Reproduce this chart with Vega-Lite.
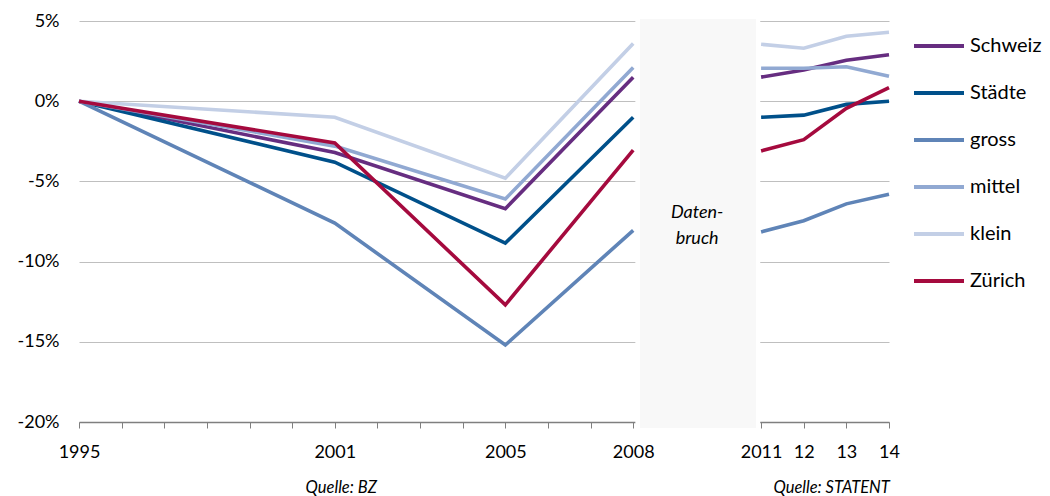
{
  "$schema": "https://vega.github.io/schema/vega-lite/v6.json",
  "width": 810,
  "height": 401,
  "autosize": {"type": "none"},
  "padding": {"left": 79, "top": 21, "right": 161, "bottom": 74},
  "background": "white",
  "config": {"view": {"stroke": null}, "font": "Lato"},
  "datasets": {
    "lines": [
      {"year": 1995, "series": "Schweiz", "seg": "a", "value": 0},
      {"year": 2001, "series": "Schweiz", "seg": "a", "value": -3.2},
      {"year": 2005, "series": "Schweiz", "seg": "a", "value": -6.7},
      {"year": 2008, "series": "Schweiz", "seg": "a", "value": 1.5},
      {"year": 2011, "series": "Schweiz", "seg": "b", "value": 1.5},
      {"year": 2012, "series": "Schweiz", "seg": "b", "value": 1.95},
      {"year": 2013, "series": "Schweiz", "seg": "b", "value": 2.55},
      {"year": 2014, "series": "Schweiz", "seg": "b", "value": 2.9},
      {"year": 1995, "series": "Städte", "seg": "a", "value": 0},
      {"year": 2001, "series": "Städte", "seg": "a", "value": -3.8},
      {"year": 2005, "series": "Städte", "seg": "a", "value": -8.85},
      {"year": 2008, "series": "Städte", "seg": "a", "value": -1.0},
      {"year": 2011, "series": "Städte", "seg": "b", "value": -1.0},
      {"year": 2012, "series": "Städte", "seg": "b", "value": -0.87},
      {"year": 2013, "series": "Städte", "seg": "b", "value": -0.2},
      {"year": 2014, "series": "Städte", "seg": "b", "value": 0.0},
      {"year": 1995, "series": "gross", "seg": "a", "value": 0},
      {"year": 2001, "series": "gross", "seg": "a", "value": -7.6},
      {"year": 2005, "series": "gross", "seg": "a", "value": -15.2},
      {"year": 2008, "series": "gross", "seg": "a", "value": -8.05},
      {"year": 2011, "series": "gross", "seg": "b", "value": -8.15},
      {"year": 2012, "series": "gross", "seg": "b", "value": -7.45},
      {"year": 2013, "series": "gross", "seg": "b", "value": -6.4},
      {"year": 2014, "series": "gross", "seg": "b", "value": -5.8},
      {"year": 1995, "series": "mittel", "seg": "a", "value": 0},
      {"year": 2001, "series": "mittel", "seg": "a", "value": -2.8},
      {"year": 2005, "series": "mittel", "seg": "a", "value": -6.1},
      {"year": 2008, "series": "mittel", "seg": "a", "value": 2.1},
      {"year": 2011, "series": "mittel", "seg": "b", "value": 2.05},
      {"year": 2012, "series": "mittel", "seg": "b", "value": 2.05},
      {"year": 2013, "series": "mittel", "seg": "b", "value": 2.15},
      {"year": 2014, "series": "mittel", "seg": "b", "value": 1.55},
      {"year": 1995, "series": "klein", "seg": "a", "value": 0},
      {"year": 2001, "series": "klein", "seg": "a", "value": -1.0},
      {"year": 2005, "series": "klein", "seg": "a", "value": -4.8},
      {"year": 2008, "series": "klein", "seg": "a", "value": 3.6},
      {"year": 2011, "series": "klein", "seg": "b", "value": 3.55},
      {"year": 2012, "series": "klein", "seg": "b", "value": 3.3},
      {"year": 2013, "series": "klein", "seg": "b", "value": 4.05},
      {"year": 2014, "series": "klein", "seg": "b", "value": 4.3},
      {"year": 1995, "series": "Zürich", "seg": "a", "value": 0},
      {"year": 2001, "series": "Zürich", "seg": "a", "value": -2.6},
      {"year": 2005, "series": "Zürich", "seg": "a", "value": -12.7},
      {"year": 2008, "series": "Zürich", "seg": "a", "value": -3.05},
      {"year": 2011, "series": "Zürich", "seg": "b", "value": -3.1},
      {"year": 2012, "series": "Zürich", "seg": "b", "value": -2.4},
      {"year": 2013, "series": "Zürich", "seg": "b", "value": -0.45},
      {"year": 2014, "series": "Zürich", "seg": "b", "value": 0.85}
    ]
  },
  "layer": [
    {
      "data": {"values": [{"x1": 2008.05, "x2": 2010.98, "y1": 5.2, "y2": -20.4}]},
      "mark": {"type": "rect", "fill": "white"},
      "encoding": {
        "x": {"field": "x1", "type": "quantitative"},
        "x2": {"field": "x2"},
        "y": {"field": "y1", "type": "quantitative"},
        "y2": {"field": "y2"}
      }
    },
    {
      "data": {"values": [{"x1": 2008.16, "x2": 2010.88, "y1": 5.12, "y2": -20.37}]},
      "mark": {"type": "rect", "fill": "#f8f8f8"},
      "encoding": {
        "x": {"field": "x1", "type": "quantitative"},
        "x2": {"field": "x2"},
        "y": {"field": "y1", "type": "quantitative"},
        "y2": {"field": "y2"}
      }
    },
    {
      "data": {"values": [{"x": 2009.5, "y": -6.95, "t": "Daten-\nbruch"}]},
      "mark": {"type": "text", "fontSize": 18, "fontStyle": "italic", "lineBreak": "\n", "lineHeight": 26, "color": "black", "align": "center", "baseline": "middle"},
      "encoding": {
        "x": {"field": "x", "type": "quantitative"},
        "y": {"field": "y", "type": "quantitative"},
        "text": {"field": "t"}
      }
    },
    {
      "data": {"values": [{"x": 2001.15, "y": -24.1, "t": "Quelle: BZ", "a": "c"}]},
      "mark": {"type": "text", "fontSize": 16.5, "fontStyle": "italic", "color": "black", "align": "center", "baseline": "middle"},
      "encoding": {
        "x": {"field": "x", "type": "quantitative"},
        "y": {"field": "y", "type": "quantitative"},
        "text": {"field": "t"}
      }
    },
    {
      "data": {"values": [{"x": 2014.02, "y": -24.1, "t": "Quelle: STATENT"}]},
      "mark": {"type": "text", "fontSize": 16.5, "fontStyle": "italic", "color": "black", "align": "right", "baseline": "middle"},
      "encoding": {
        "x": {"field": "x", "type": "quantitative"},
        "y": {"field": "y", "type": "quantitative"},
        "text": {"field": "t"}
      }
    },
    {
      "data": {"name": "lines"},
      "mark": {"type": "line", "strokeWidth": 3.6, "strokeCap": "butt"},
      "encoding": {
        "x": {
          "field": "year", "type": "quantitative",
          "scale": {"domain": [1995, 2014], "nice": false, "zero": false},
          "axis": {
            "title": null,
            "values": [1995, 1996, 1997, 1998, 1999, 2000, 2001, 2002, 2003, 2004, 2005, 2006, 2007, 2008, 2011, 2012, 2013, 2014],
            "format": "d",
            "labelExpr": "indexof([1995, 2001, 2005, 2008, 2011], datum.value) >= 0 ? datum.label : (datum.value > 2011 ? '' + (datum.value - 2000) : '')",
            "grid": false,
            "domainColor": "#7f7f7f",
            "domainWidth": 1.5,
            "tickColor": "#7f7f7f",
            "tickWidth": 1,
            "tickSize": 6,
            "labelFontSize": 18,
            "labelColor": "black",
            "labelPadding": 15,
            "labelFlush": false,
            "labelOverlap": false
          }
        },
        "y": {
          "field": "value", "type": "quantitative",
          "scale": {"domain": [-20, 5], "nice": false, "zero": false},
          "axis": {
            "title": null,
            "values": [-20, -15, -10, -5, 0, 5],
            "labelExpr": "datum.value + '%'",
            "grid": true,
            "gridColor": "#bfbfbf",
            "gridWidth": 1,
            "domain": false,
            "ticks": false,
            "labelFontSize": 18,
            "labelColor": "black",
            "labelPadding": 20
          }
        },
        "color": {
          "field": "series", "type": "nominal",
          "scale": {
            "domain": ["Schweiz", "Städte", "gross", "mittel", "klein", "Zürich"],
            "range": ["#662d80", "#00508a", "#5f84b7", "#91a9d2", "#c3cfe6", "#a50a3e"]
          },
          "legend": {
            "title": null,
            "orient": "none",
            "legendX": 833,
            "legendY": -2,
            "symbolType": "stroke",
            "symbolSize": 2500,
            "symbolStrokeWidth": 4,
            "labelFontSize": 20,
            "labelColor": "black",
            "labelOffset": 4,
            "rowPadding": 10,
            "padding": 0
          }
        },
        "detail": {"field": "seg"}
      }
    }
  ]
}
